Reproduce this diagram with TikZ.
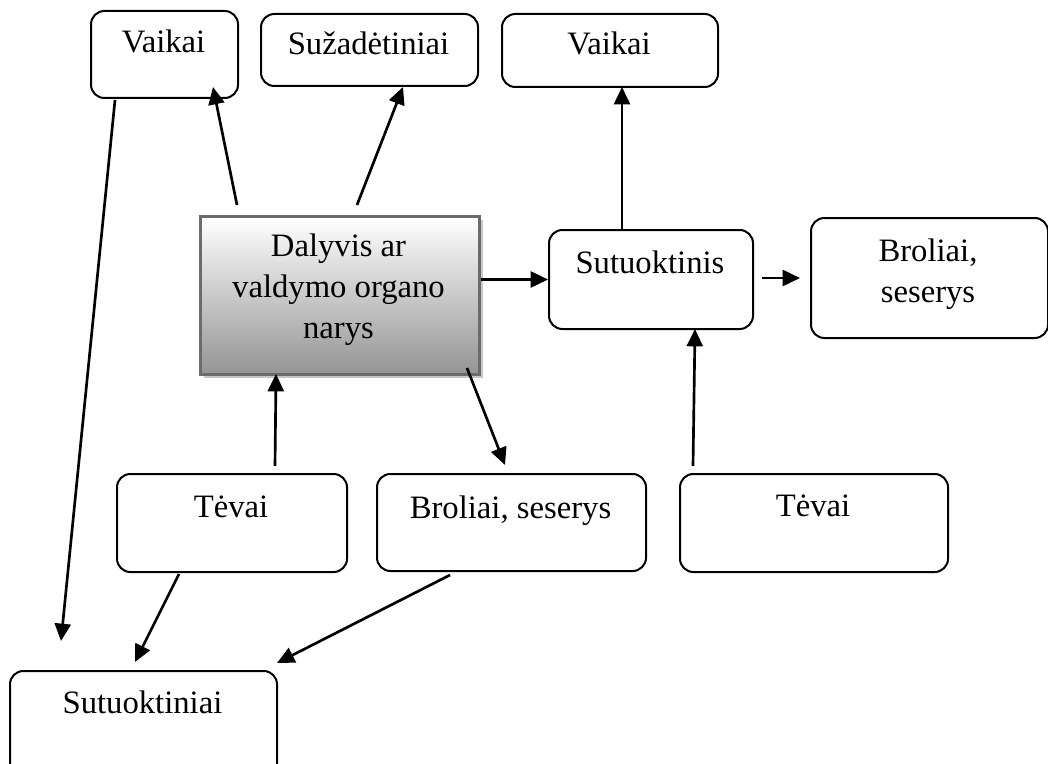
\documentclass[tikz,border=0pt]{standalone}
\usepackage{fontspec}
\setmainfont{Liberation Serif}
\usetikzlibrary{arrows.meta,shadows}
\begin{document}
\begin{tikzpicture}[x=0.75pt,y=-0.75pt,
  rbox/.style 2 args={draw, line width=1.5pt, rounded corners=10pt,
    anchor=north west, inner sep=0pt,
    minimum width={#1*0.75pt}, minimum height={#2*0.75pt}},
  mainbox/.style 2 args={draw=black!58, line width=2pt,
    anchor=north west, inner sep=0pt,
    minimum width={#1*0.75pt}, minimum height={#2*0.75pt},
    top color=white, bottom color=black!42,
    drop shadow={shadow xshift=3pt, shadow yshift=-3pt, fill=black!22, opacity=1}},
  lbl/.style={inner sep=0pt, anchor=base, align=center,
    font=\fontsize{24.5}{30.75}\selectfont},
  conn/.style={line width=2pt, -{Triangle[length=13pt,width=12pt]}}]

\useasboundingbox (0,0) rectangle (1048,763);
\clip (0,0) rectangle (1048,763);

% boxes
\node[rbox={147}{87}]  (vaikaiL) at (90,10)  {};
\node[rbox={217}{72}]  (suz)     at (260,13) {};
\node[rbox={216}{73}]  (vaikaiR) at (501,13) {};
\node[mainbox={279}{158}] (main) at (199,215) {};
\node[rbox={204}{99}]  (sut)     at (548,229) {};
\node[rbox={237}{120}] (broR)    at (810,217) {};
\node[rbox={230}{98}]  (tevL)    at (116,473) {};
\node[rbox={269}{97}]  (broM)    at (376,473) {};
\node[rbox={268}{98}]  (tevR)    at (679,473) {};
\node[rbox={267}{130}] (sutuok)  at (9,670)   {};

% labels (multi-line labels sit on the baseline of their last line)
\node[lbl] (vaikaiLt) at (163.5,53) {Vaikai};
\node[lbl] (suzt)     at (368.5,55) {Sužadėtiniai};
\node[lbl] (vaikaiRt) at (609,55)   {Vaikai};
\node[lbl] (maint)    at (338.5,338) {Dalyvis ar\\valdymo organo\\narys};
\node[lbl] (sutt)     at (650,273)  {Sutuoktinis};
\node[lbl] (broRt)    at (928,302)  {Broliai,\\seserys};
\node[lbl] (tevLt)    at (231,517)  {Tėvai};
\node[lbl] (broMt)    at (510.5,518) {Broliai, seserys};
\node[lbl] (tevRt)    at (813,516)  {Tėvai};
\node[lbl] (sutuokt)  at (142.5,713) {Sutuoktiniai};

% connector end points
\coordinate (p1s) at (237,205); \coordinate (p1e) at (213,87);
\coordinate (p2s) at (357,205); \coordinate (p2e) at (403,87);
\coordinate (p3s) at (622,230); \coordinate (p3e) at (622,87);
\coordinate (p5s) at (762,278); \coordinate (p5e) at (800,278);
\coordinate (p6s) at (693,466); \coordinate (p6e) at (695,329);
\coordinate (p7s) at (275,466); \coordinate (p7e) at (276,374);
\coordinate (p8s) at (467,368); \coordinate (p8e) at (505,465);
\coordinate (p9s) at (115,100); \coordinate (p9e) at (61,641);
\coordinate (p10s) at (179,574); \coordinate (p10e) at (135,662);
\coordinate (p11s) at (450,575); \coordinate (p11e) at (277,663);

% connectors
\draw[conn] (p1s) -- (p1e);
\draw[conn] (p2s) -- (p2e);
\draw[conn] (p3s) -- (p3e);
\draw[conn] (main.north east |- sut.west) -- (sut.west);
\draw[conn] (p5s) -- (p5e);
\draw[conn] (p6s) -- (p6e);
\draw[conn] (p7s) -- (p7e);
\draw[conn] (p8s) -- (p8e);
\draw[conn] (p9s) -- (p9e);
\draw[conn] (p10s) -- (p10e);
\draw[conn] (p11s) -- (p11e);
\end{tikzpicture}
\end{document}
